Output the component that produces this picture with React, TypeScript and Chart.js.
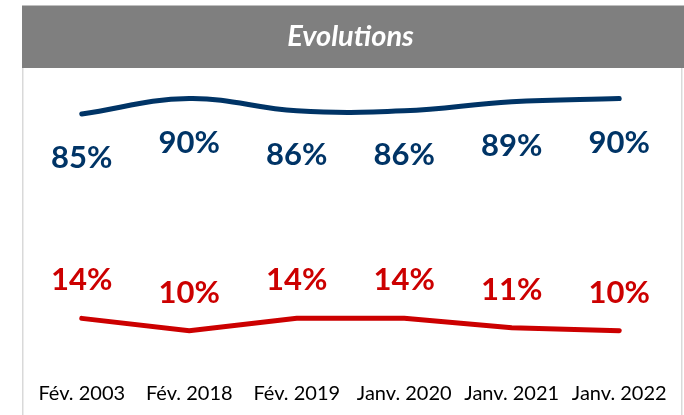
import React, { useEffect, useRef } from "react";
import { Chart, registerables } from "chart.js";

Chart.register(...registerables);

const categories = ["Fév. 2003", "Fév. 2018", "Fév. 2019", "Janv. 2020", "Janv. 2021", "Janv. 2022"];
const blueValues = [85, 90, 86, 86, 89, 90];
const redValues = [14, 10, 14, 14, 11, 10];
const titleText = "Evolutions";

const BLUE = "#003466";
const RED = "#CC0000";
const FONT = "Lato, 'Open Sans', sans-serif";

const panelPlugin = {
  id: "panel",
  beforeDraw(chart: any) {
    const { ctx, width, height } = chart;
    ctx.save();
    ctx.fillStyle = "#ffffff";
    ctx.fillRect(0, 0, width, height);
    // header band
    ctx.fillStyle = "#7f7f7f";
    ctx.fillRect(22, 5, width - 22, 63);
    ctx.fillStyle = "#bfbfbf";
    ctx.fillRect(22, 5, width - 22, 1);
    // panel borders
    ctx.fillStyle = "#d9d9d9";
    ctx.fillRect(22, 68, 1.5, height - 68);
    ctx.fillRect(681, 68, 1.5, height - 68);
    ctx.restore();
  },
};

const labelPlugin = {
  id: "pointLabels",
  afterDatasetsDraw(chart: any) {
    const { ctx } = chart;
    ctx.save();
    ctx.font = `bold 31px ${FONT}`;
    ctx.textAlign = "center";
    ctx.textBaseline = "middle";
    chart.data.datasets.forEach((ds: any, i: number) => {
      const meta = chart.getDatasetMeta(i);
      const offset = ds.labelOffset;
      ctx.fillStyle = ds.borderColor;
      meta.data.forEach((pt: any, j: number) => {
        ctx.fillText(`${ds.data[j]}%`, pt.x, pt.y + offset);
      });
    });
    ctx.restore();
  },
};

export default function App() {
  const ref = useRef<HTMLCanvasElement>(null);
  useEffect(() => {
    document.body.style.margin = "0";
    const canvas = ref.current!;
    const chart = new Chart(canvas, {
      type: "line",
      data: {
        labels: categories,
        datasets: [
          {
            label: "Série 1",
            data: blueValues,
            borderColor: BLUE,
            backgroundColor: BLUE,
            borderWidth: 5,
            borderCapStyle: "round",
            pointRadius: 0,
            tension: 0.4,
            yAxisID: "y",
            labelOffset: 44,
          } as any,
          {
            label: "Série 2",
            data: redValues,
            borderColor: RED,
            backgroundColor: RED,
            borderWidth: 5,
            borderCapStyle: "round",
            pointRadius: 0,
            tension: 0,
            yAxisID: "y2",
            labelOffset: -38,
          } as any,
        ],
      },
      options: {
        responsive: false,
        animation: false,
        devicePixelRatio: 1,
        layout: { padding: { left: 28, right: 11, top: 5, bottom: 1 } },
        plugins: {
          legend: { display: false },
          tooltip: { enabled: false },
          title: {
            display: true,
            text: titleText,
            color: "#ffffff",
            font: { family: FONT, size: 29, weight: "bold", style: "italic", lineHeight: 1.2 },
            padding: { top: 14, bottom: 14.2 },
          },
        },
        scales: {
          x: {
            offset: true,
            grid: { display: false, drawTicks: false },
            border: { display: false },
            ticks: {
              color: "#000000",
              font: { family: FONT, size: 20 },
              padding: 8,
              maxRotation: 0,
              autoSkip: false,
            },
          },
          y: { display: false, min: 0, max: 100 },
          y2: { display: false, min: -4, max: 95 },
        },
      },
      plugins: [panelPlugin, labelPlugin],
    });
    return () => chart.destroy();
  }, []);
  return <canvas ref={ref} width={684} height={415} style={{ display: "block" }} />;
}
